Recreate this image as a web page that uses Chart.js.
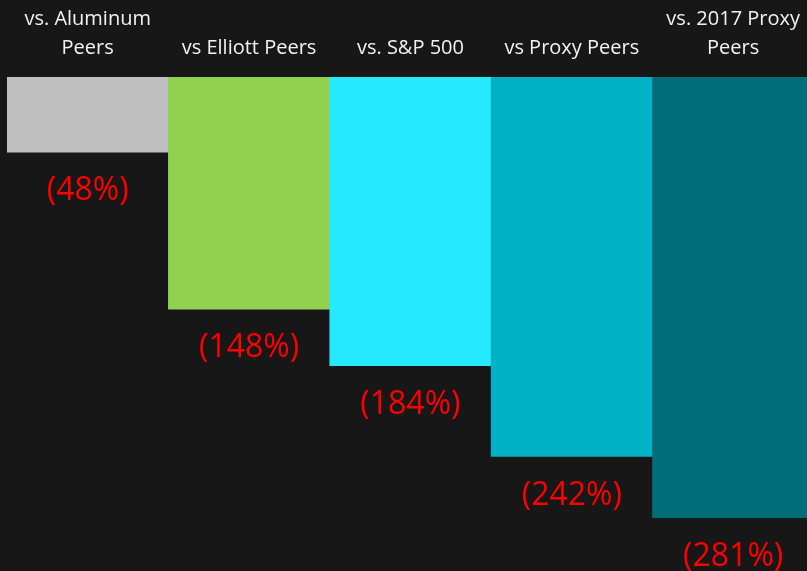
<!DOCTYPE html>
<html>
<head>
<meta charset="utf-8">
<script src="https://cdn.jsdelivr.net/npm/chart.js@4"></script>
<style>
  html, body { margin: 0; padding: 0; background: #171717; overflow: hidden; }
  #wrap { width: 814px; height: 571px; }
</style>
</head>
<body>
<div id="wrap"><canvas id="mycanvas" width="814" height="571"></canvas></div>
<script>
var categories = [["vs. Aluminum", "Peers"], "vs Elliott Peers", "vs. S&P 500", "vs Proxy Peers", ["vs. 2017 Proxy", "Peers"]];
var values = [-48, -148, -184, -242, -281];
var barColors = ['#c0c0c0', '#92d050', '#25e9ff', '#00b2c8', '#006e78'];

// red (xx%) under each bar
var valueLabels = {
    id: 'valueLabels',
    afterDatasetsDraw: function(chart){
        var ctx = chart.ctx;
        var meta = chart.getDatasetMeta(0);
        ctx.save();
        ctx.fillStyle = '#ff0000';
        ctx.font = '32px "Open Sans"';
        ctx.textAlign = 'center';
        ctx.textBaseline = 'middle';
        meta.data.forEach(function(bar, i){
            ctx.fillText('(' + Math.abs(values[i]) + '%)', bar.x, bar.y + 39);
        });
        ctx.restore();
    }
};

var ctx = document.getElementById('mycanvas');
var barGraph = new Chart(ctx, {
    type: 'bar',
    data: {
        labels: categories,
        datasets: [{
            data: values,
            backgroundColor: barColors,
            barPercentage: 1,
            categoryPercentage: 1
        }]
    },
    options: {
        responsive: false,
        animation: false,
        layout: { padding: { left: 7, right: 0, top: 0, bottom: 0 } },
        plugins: { legend: { display: false }, tooltip: { enabled: false } },
        scales: {
            x: {
                position: 'top',
                grid: { display: false, drawTicks: false },
                border: { display: false },
                ticks: {
                    color: '#f2f2f2',
                    font: { family: 'Open Sans', size: 20, lineHeight: '29px' },
                    padding: 14,
                    maxRotation: 0,
                    autoSkip: false
                },
                afterFit: function(scale){ scale.height = 77; }
            },
            y: {
                display: false,
                min: -315,
                max: 0
            }
        }
    },
    plugins: [valueLabels]
});
</script>
</body>
</html>
